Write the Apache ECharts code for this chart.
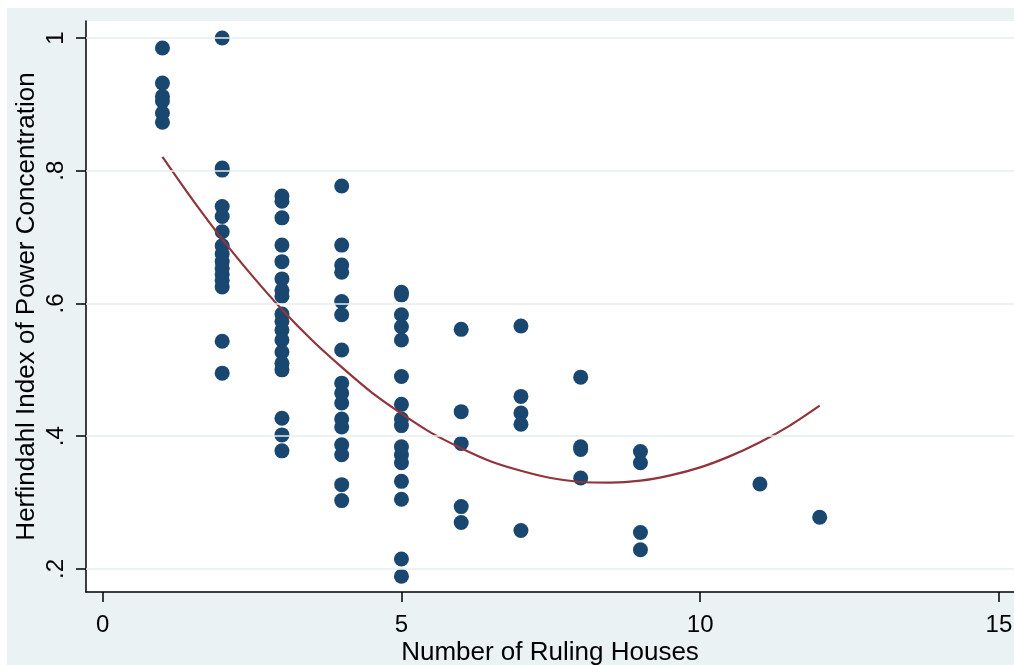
<!DOCTYPE html>
<html>
<head>
<meta charset="utf-8">
<script src="https://cdn.jsdelivr.net/npm/echarts@6/dist/echarts.min.js"></script>
<style>
  html, body { margin: 0; padding: 0; background: #ffffff; width: 1014px; height: 665px; overflow: hidden; }
  #chart { position: absolute; left: 7px; top: 8px; width: 1007px; height: 657px; }
</style>
</head>
<body>
<div id="chart"></div>
<script>
// ---- Data ----
const rulingHouses = [1, 2, 3, 4, 5, 6, 7, 8, 9, 11, 12];
const herfindahlByHouses = [
  [0.985, 0.932, 0.912, 0.905, 0.887, 0.873],
  [1.0, 0.804, 0.801, 0.746, 0.731, 0.708, 0.687, 0.675, 0.663, 0.653, 0.644, 0.635, 0.625, 0.543, 0.495],
  [0.762, 0.754, 0.729, 0.688, 0.663, 0.637, 0.620, 0.611, 0.584, 0.573, 0.560, 0.545, 0.527, 0.510, 0.500, 0.427, 0.402, 0.378],
  [0.777, 0.688, 0.658, 0.647, 0.603, 0.583, 0.530, 0.480, 0.465, 0.450, 0.426, 0.414, 0.387, 0.372, 0.327, 0.303],
  [0.617, 0.613, 0.583, 0.565, 0.545, 0.490, 0.448, 0.426, 0.416, 0.384, 0.372, 0.360, 0.332, 0.305, 0.215, 0.189],
  [0.561, 0.437, 0.389, 0.294, 0.270],
  [0.566, 0.460, 0.435, 0.418, 0.258],
  [0.489, 0.384, 0.380, 0.337],
  [0.377, 0.360, 0.255, 0.229],
  [0.328],
  [0.278]
];
// Fitted (quadratic) curve at half-unit steps
const fitX = [1, 1.5, 2, 2.5, 3, 3.5, 4, 4.5, 5, 5.5, 6, 6.5, 7, 7.5, 8, 8.5, 9, 9.5, 10, 10.5, 11, 11.5, 12];
const fitY = [0.821, 0.757, 0.697, 0.642, 0.591, 0.545, 0.504, 0.466, 0.434, 0.405, 0.382, 0.362, 0.348, 0.337, 0.331, 0.330, 0.333, 0.341, 0.353, 0.370, 0.391, 0.416, 0.446];
// Ticks
const xTicks = [0, 5, 10, 15];
const xTickLabels = ['0', '5', '10', '15'];
const yTicks = [0.2, 0.4, 0.6, 0.8, 1.0];
const yTickLabels = ['.2', '.4', '.6', '.8', '1'];
const xTitle = 'Number of Ruling Houses';
const yTitle = 'Herfindahl Index of Power Concentration';

// ---- Build series data ----
const scatterData = [];
rulingHouses.forEach((h, i) => {
  herfindahlByHouses[i].forEach(v => scatterData.push([h, v]));
});
const fitData = fitX.map((x, i) => [x, fitY[i]]);

function labelFor(ticks, labels, v) {
  for (let i = 0; i < ticks.length; i++) {
    if (Math.abs(ticks[i] - v) < 1e-6) return labels[i];
  }
  return '';
}

const FONT = 'Liberation Sans, Arial, sans-serif';
const chart = echarts.init(document.getElementById('chart'), null, { renderer: 'canvas' });
chart.setOption({
  backgroundColor: '#eaf2f3',
  animation: false,
  grid: {
    left: 79, top: 13, right: 0, bottom: 73,
    show: true, backgroundColor: '#ffffff', borderWidth: 0,
    containLabel: false,
    outerBoundsMode: 'none'
  },
  xAxis: {
    type: 'value',
    min: -0.2795, max: 15.252,
    name: xTitle,
    nameLocation: 'middle',
    nameGap: 48,
    nameMoveOverlap: false,
    nameTextStyle: { fontFamily: FONT, fontSize: 26, color: '#000' },
    axisLine: { show: true, onZero: false, lineStyle: { color: '#000', width: 1.5 } },
    axisTick: { show: true, length: 10, customValues: xTicks, lineStyle: { color: '#000', width: 1.5 } },
    axisLabel: {
      customValues: xTicks, margin: 21,
      fontFamily: FONT, fontSize: 24, color: '#000',
      formatter: v => labelFor(xTicks, xTickLabels, v)
    },
    splitLine: { show: false }
  },
  yAxis: {
    type: 'value',
    min: 0.1653, max: 1.0256,
    name: yTitle,
    nameLocation: 'middle',
    nameGap: 46,
    nameRotate: 90,
    nameMoveOverlap: false,
    nameTextStyle: { fontFamily: FONT, fontSize: 26, color: '#000' },
    axisLine: { show: true, onZero: false, lineStyle: { color: '#000', width: 1.5 } },
    axisTick: { show: true, length: 10, customValues: yTicks, lineStyle: { color: '#000', width: 1.5 } },
    axisLabel: {
      customValues: yTicks, margin: 18, rotate: 90,
      fontFamily: FONT, fontSize: 24, color: '#000',
      formatter: v => labelFor(yTicks, yTickLabels, v)
    },
    splitLine: { show: false }
  },
  series: [
    {
      type: 'line',
      data: [],
      z: 1,
      silent: true,
      markLine: {
        silent: true,
        symbol: ['none', 'none'],
        label: { show: false },
        lineStyle: { color: '#e4eef0', width: 1.5, type: 'solid' },
        data: yTicks.map(v => ({ yAxis: v }))
      }
    },
    {
      type: 'scatter',
      data: scatterData,
      symbol: 'circle',
      symbolSize: 15,
      z: 2,
      itemStyle: { color: '#1a476f', opacity: 1 }
    },
    {
      type: 'line',
      data: fitData,
      smooth: 0.3,
      showSymbol: false,
      symbol: 'none',
      z: 3,
      lineStyle: { color: '#90353b', width: 2.2 }
    }
  ]
});
</script>
</body>
</html>
